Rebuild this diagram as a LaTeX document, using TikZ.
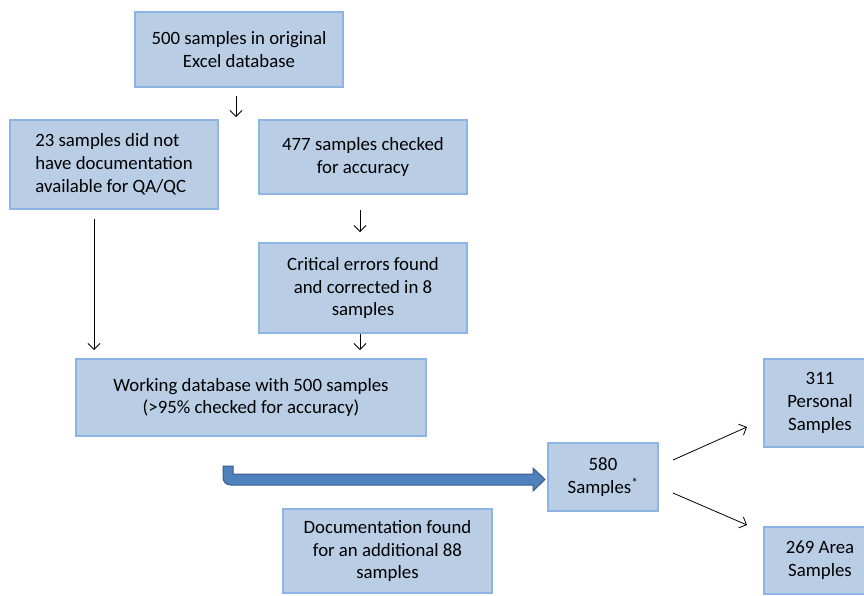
\documentclass[tikz,border=0pt]{standalone}
\usepackage{fontspec}
\setmainfont{Carlito}
\usetikzlibrary{arrows.meta}
\definecolor{boxfill}{HTML}{B9CDE5}
\definecolor{boxline}{HTML}{8DB4E2}
\definecolor{bigfill}{HTML}{4F81BD}
\definecolor{bigline}{HTML}{385D8A}
\tikzset{
  box/.style={rectangle, fill=boxfill, draw=boxline, line width=2.5pt, align=center,
    font=\fontsize{18.8}{22.8}\selectfont, inner sep=0pt},
  conn/.style={-{Straight Barb[length=6pt,width=12pt]}, line width=0.8pt, black}
}
\begin{document}
\begin{tikzpicture}[x=1pt,y=-1pt]
\useasboundingbox (0,0) rectangle (864,595);
\node[box, minimum width=208pt, minimum height=75pt] (orig) at (239,49.5) {500 samples in original\\Excel database};
\node[box, minimum width=208pt, minimum height=89pt, align=left] (nodoc) at (114,164.5) {23 samples did not\\have documentation\\available for QA/QC};
\node[box, minimum width=208pt, minimum height=74pt] (checked) at (363,157) {477 samples checked\\for accuracy};
\node[box, minimum width=208pt, minimum height=90pt] (crit) at (363,288) {Critical errors found\\and corrected in 8\\samples};
\node[box, minimum width=350pt, minimum height=77pt] (work) at (251,397.5) {Working database with 500 samples\\(>95\% checked for accuracy)};
\node[box, minimum width=110pt, minimum height=68pt] (s580) at (603,477) {580\\Samples\textsuperscript{*}};
\node[box, minimum width=209pt, minimum height=84pt] (docf) at (387.5,551) {Documentation found\\for an additional 88\\samples};
\node[box, minimum width=112pt, minimum height=88pt] (pers) at (820,403) {311\\Personal\\Samples};
\node[box, minimum width=112pt, minimum height=67pt] (area) at (820,560.5) {269 Area\\Samples};
% arrow endpoints
\coordinate (a1s) at (236,96); \coordinate (a1e) at (236,117);
\coordinate (a2s) at (94,219); \coordinate (a2e) at (94,350);
\coordinate (a3s) at (360,210); \coordinate (a3e) at (360,232);
\coordinate (a4s) at (360,334); \coordinate (a4e) at (360,350);
\coordinate (a5s) at (673,460); \coordinate (a5e) at (747,427);
\coordinate (a6s) at (673,493); \coordinate (a6e) at (747,525);
\draw[conn] (a1s) -- (a1e);
\draw[conn] (a2s) -- (a2e);
\draw[conn] (a3s) -- (a3e);
\draw[conn] (a4s) -- (a4e);
\draw[conn] (a5s) -- (a5e);
\draw[conn] (a6s) -- (a6e);
% bent block arrow
\draw[fill=bigfill, draw=bigline, line width=1pt]
  (223,466) -- (223,477) .. controls (223,482) and (226,485) .. (231,485)
  -- (533,485) -- (533,491) -- (545,479.5) -- (533,468) -- (533,474)
  -- (233,474) -- (233,466) -- cycle;
\end{tikzpicture}
\end{document}
